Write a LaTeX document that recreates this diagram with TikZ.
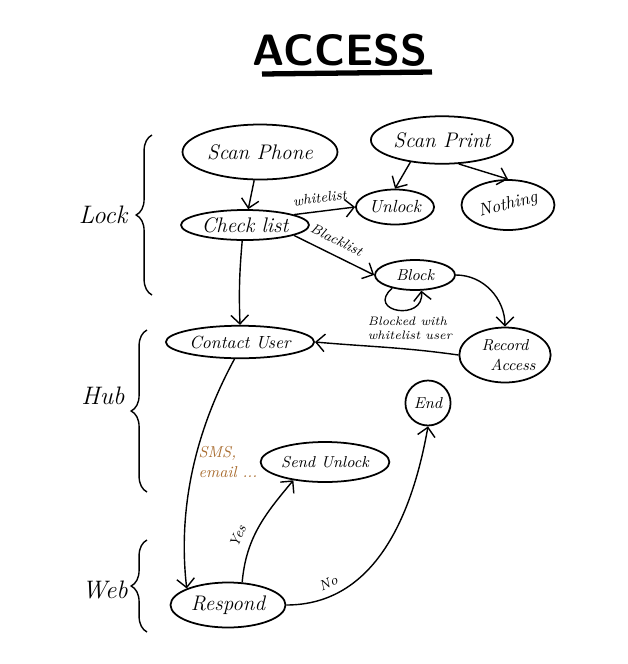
\documentclass[tikz,border=0pt]{standalone}
\usepackage{amsmath}
\usepackage{tikz}
\usetikzlibrary{shapes.geometric,decorations.pathreplacing,arrows.meta}
\definecolor{smsbrown}{RGB}{170,110,50}

\begin{document}
\begin{tikzpicture}[x=0.02cm,y=-0.02cm,
	state/.style={ellipse,draw,line width=1pt,inner sep=1pt,font=\large\itshape},
	link/.style={-{Straight Barb[length=5pt]},line width=0.8pt},
	lbl/.style={font=\itshape\footnotesize},
	side/.style={font=\Large\itshape},
	bracket/.style={decorate,decoration={brace,amplitude=9pt},line width=0.8pt}]
	
	\useasboundingbox (0,0) rectangle (627,664);
	
	% title
	\node[font=\fontsize{25}{30}\selectfont\sffamily\bfseries] (title) at (340,50) {ACCESS};
	\coordinate (ul) at (262,74);
	\coordinate (ur) at (432,72);
	\draw[line width=3pt] (ul) -- (ur);
	
	% sides
	\coordinate (lockt) at (152,135);
	\coordinate (lockb) at (152,295);
	\coordinate (hubt) at (147,330);
	\coordinate (hubb) at (147,492);
	\coordinate (webt) at (147,540);
	\coordinate (webb) at (147,632);
	\draw[bracket] (lockb) -- (lockt);
	\draw[bracket] (hubb) -- (hubt);
	\draw[bracket] (webb) -- (webt);
	\node[side] (lock) at (103,215) {Lock};
	\node[side] (hub) at (103,396) {Hub};
	\node[side] (web) at (105,590) {Web};
	
	% states
	\node[state,minimum width=3.1cm,minimum height=1.1cm] (phone) at (260,152) {Scan Phone};
	\node[state,minimum width=2.7cm,minimum height=0.95cm] (print) at (442,140) {Scan Print};
	\node[state,minimum width=2.4cm,minimum height=0.6cm] (check) at (245,225) {Check list};
	\node[state,minimum width=1.45cm,minimum height=0.7cm,font=\itshape] (unlock) at (395,207) {Unlock};
	\node[state,minimum width=1.5cm,minimum height=1cm,font=\itshape] (nothing) at (508,205) {\rotatebox{15}{Nothing}};
	\node[state,minimum width=1.6cm,minimum height=0.6cm,font=\small\itshape] (block) at (415,275) {Block};
	\node[state,minimum width=1.65cm,minimum height=1.1cm,font=\small\itshape,align=center] (record) at (505,355) {Record\\ \quad Access};
	\node[state,minimum width=2.5cm,minimum height=0.65cm,font=\itshape] (contact) at (240,342) {Contact User};
	\node[state,minimum width=0.9cm,minimum height=0.9cm,font=\small\itshape] (end) at (428,403) {End};
	\node[state,minimum width=2.2cm,minimum height=0.8cm,font=\small\itshape] (send) at (325,462) {Send Unlock};
	\node[state,minimum width=2.3cm,minimum height=0.9cm] (respond) at (228,605) {Respond};
	
	% links
	\draw[link] (phone) -- (check);
	\draw[link] (print.-145) -- (unlock.north);
	\draw[link] (print.-55) -- (nothing.north);
	\draw[link] (check.12) -- node[lbl,above=1pt,sloped,pos=0.45] {whitelist} (unlock.west);
	\draw[link] (check.-12) -- node[lbl,above=2pt,sloped,pos=0.45] {Blacklist} (block.west);
	\draw[link] (block.210) .. controls (365,312) and (425,322) .. (block.-68);
	\node[lbl,align=left,font=\scriptsize\itshape] (blocked) at (410,328) {Blocked with\\whitelist user};
	\draw[link] (block.east) to[out=0,in=90] (record.north);
	\draw[link] (record.west) to[out=172,in=-5] (contact.east);
	\draw[link] (check.-100) to[out=-95,in=92] (contact.north);
	\draw[link] (contact.-108) .. controls (185,450) and (180,530) .. (respond.north west);
	\node[lbl,text=smsbrown,align=left,font=\small\itshape] (sms) at (228,462) {SMS,\\email ...};
	\draw[link] (respond.58) to[out=85,in=-130] node[lbl,above=2pt,sloped,pos=0.35] {Yes} (send.-150);
	\draw[link] (respond.east) to[out=0,in=-100] node[lbl,above=1pt,sloped,pos=0.2] {No} (end.south);
	
\end{tikzpicture}
\end{document}
